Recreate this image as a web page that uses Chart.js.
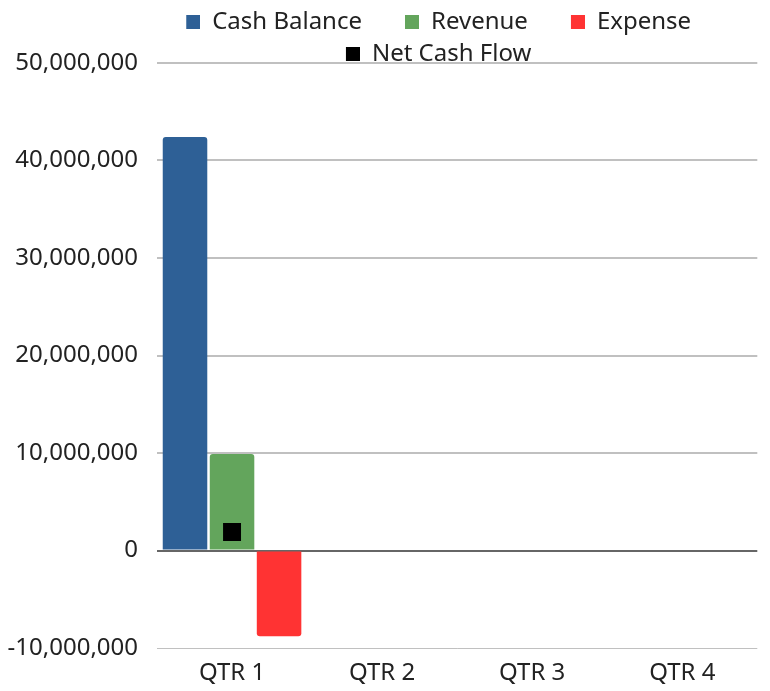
<!DOCTYPE html>
<html>
<head>
<meta charset="utf-8">
<script src="https://cdn.jsdelivr.net/npm/chart.js@4"></script>
<style>
html,body{margin:0;padding:0;background:#ffffff;}
#wrap{width:770px;height:691px;}
</style>
</head>
<body>
<div id="wrap"><canvas id="c" width="770" height="691"></canvas></div>
<script>
// ---- data ----
const categories = ['QTR 1', 'QTR 2', 'QTR 3', 'QTR 4'];
const cashBalance = [42400000, null, null, null];
const revenue = [9900000, null, null, null];
const expense = [-8800000, null, null, null];
const netCashFlow = [1900000, null, null, null];
const seriesNames = ['Cash Balance', 'Revenue', 'Expense', 'Net Cash Flow'];
const seriesColors = ['#2e6096', '#63a55c', '#ff3333', '#000000'];
const yMin = -10000000;
const yMax = 50000000;
const yStep = 10000000;

Chart.defaults.font.family = '"Noto Sans", "Open Sans", sans-serif';
Chart.defaults.font.size = 24;
Chart.defaults.color = '#222222';

function legendIcon(color) {
  const c = document.createElement('canvas');
  c.width = 49; c.height = 14;
  const g = c.getContext('2d');
  g.fillStyle = color;
  g.fillRect(35, 0, 14, 14);
  return c;
}
const icons = seriesColors.map(legendIcon);

const legendShift = {
  id: 'legendShift',
  afterLayout(chart) {
    const l = chart.legend;
    if (l) { l.left -= 36; l.right -= 36; }
  }
};

new Chart(document.getElementById('c'), {
  type: 'bar',
  data: {
    labels: categories,
    datasets: [
      { label: seriesNames[0], data: cashBalance, backgroundColor: seriesColors[0], borderRadius: 3 },
      { label: seriesNames[1], data: revenue, backgroundColor: seriesColors[1], borderRadius: 3 },
      { label: seriesNames[2], data: expense, backgroundColor: seriesColors[2], borderRadius: 3 },
      { type: 'line', label: seriesNames[3], data: netCashFlow, showLine: false,
        pointStyle: 'rect', pointRadius: 12.7, pointHoverRadius: 12.7,
        backgroundColor: seriesColors[3], borderColor: seriesColors[3], borderWidth: 0,
        pointBorderWidth: 0, order: -1 }
    ]
  },
  options: {
    responsive: false,
    animation: false,
    barPercentage: 0.947,
    categoryPercentage: 0.94,
    layout: { padding: { left: 8, right: 7, top: 2, bottom: 3 } },
    plugins: {
      tooltip: { enabled: false },
      legend: {
        position: 'top',
        fullSize: false,
        maxHeight: 61,
        labels: {
          usePointStyle: true,
          pointStyleWidth: 49,
          boxHeight: 14,
          padding: 8,
          color: '#222222',
          font: { size: 24 },
          sort: (a, b) => a.datasetIndex - b.datasetIndex,
          generateLabels(chart) {
            const items = Chart.defaults.plugins.legend.labels.generateLabels(chart);
            items.forEach(it => { it.pointStyle = icons[it.datasetIndex]; it.lineWidth = 0; });
            return items;
          }
        }
      }
    },
    scales: {
      x: {
        grid: { display: false, drawTicks: false },
        border: { display: false },
        ticks: { padding: 11, color: '#222222', font: { size: 24 } },
        afterFit(s) { s.height = 40; }
      },
      y: {
        min: yMin,
        max: yMax,
        border: { display: false },
        grid: {
          drawTicks: false,
          color: c => c.tick.value === 0 ? '#666666' : '#c0c0c0',
          lineWidth: c => c.tick.value === yMin ? 1 : 2
        },
        ticks: {
          stepSize: yStep,
          padding: 19,
          color: '#222222',
          font: { size: 24 },
          callback: v => Number(v).toLocaleString('en-US')
        },
        afterFit(s) { s.width = 149; }
      }
    }
  },
  plugins: [legendShift]
});
</script>
</body>
</html>
